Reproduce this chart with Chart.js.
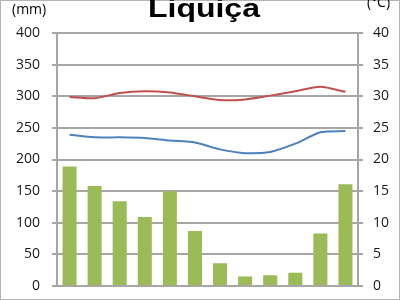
<!DOCTYPE html>
<html>
<head>
<meta charset="utf-8">
<script src="https://cdn.jsdelivr.net/npm/chart.js@4"></script>
<style>
html,body{margin:0;padding:0;background:#fff;}
#wrap{position:relative;width:400px;height:300px;overflow:hidden;}
#c{position:absolute;left:0;top:0;}
.t{position:absolute;white-space:nowrap;color:#000;}
#title{font-family:"Liberation Sans",Arial,sans-serif;font-weight:bold;font-size:26px;line-height:26px;top:-5px;left:148px;transform:scaleX(1.23);transform-origin:0 0;}
#u1{font-family:"Open Sans",sans-serif;font-size:14px;line-height:14px;left:12px;top:2px;}
#u2{font-family:"Open Sans",sans-serif;font-size:14px;line-height:14px;left:367px;top:-5px;}
</style>
</head>
<body>
<div id="wrap">
<canvas id="c" width="400" height="300"></canvas>
<div class="t" id="title">Liquiça</div>
<div class="t" id="u1">(mm)</div>
<div class="t" id="u2">(°C)</div>
</div>
<script>
const months = ['Jan','Feb','Mar','Apr','May','Jun','Jul','Aug','Sep','Oct','Nov','Dec'];
const rainfall = [189, 158, 134, 109, 150, 87, 36, 15, 17, 21, 83, 161];
const tempMax = [29.9, 29.7, 30.5, 30.8, 30.6, 30.0, 29.4, 29.5, 30.1, 30.8, 31.5, 30.7];
const tempMin = [23.9, 23.5, 23.5, 23.4, 23.0, 22.7, 21.6, 21.0, 21.2, 22.5, 24.3, 24.5];
const rainTicks = [0, 50, 100, 150, 200, 250, 300, 350, 400];
const tempTicks = [0, 5, 10, 15, 20, 25, 30, 35, 40];

const gridColor = '#a6a6a6';
const tickFont = {family: 'Open Sans', size: 14};

const borderPlugin = {
  id: 'outerBorder',
  afterDraw(chart) {
    const ctx = chart.ctx;
    ctx.save();
    ctx.strokeStyle = '#b4b4b4';
    ctx.lineWidth = 1;
    ctx.strokeRect(0.5, 0.5, chart.width - 1, chart.height - 1);
    ctx.restore();
  }
};

function noPad(s) { s.paddingTop = 0; s.paddingBottom = 0; }

new Chart(document.getElementById('c'), {
  data: {
    labels: months,
    datasets: [
      {type: 'line', data: tempMax, yAxisID: 'y2', borderColor: '#c0504d', borderWidth: 2, pointRadius: 0, tension: 0.25, order: 0},
      {type: 'line', data: tempMin, yAxisID: 'y2', borderColor: '#4f81bd', borderWidth: 2, pointRadius: 0, tension: 0.25, order: 1},
      {type: 'bar', data: rainfall, yAxisID: 'y', backgroundColor: '#9bbb59', categoryPercentage: 1, barPercentage: 0.56, order: 2}
    ]
  },
  options: {
    responsive: false,
    animation: false,
    layout: {padding: {top: 33, bottom: 0, left: 0, right: 0}},
    plugins: {legend: {display: false}, title: {display: false}, tooltip: {enabled: false}},
    scales: {
      x: {
        grid: {display: false},
        ticks: {display: false},
        border: {display: true, color: gridColor, width: 2},
        afterFit(s) { s.height = 14; s.paddingLeft = 0; s.paddingRight = 0; }
      },
      y: {
        position: 'left',
        min: 0, max: 400,
        afterBuildTicks(s) { s.ticks = rainTicks.map(v => ({value: v})); },
        ticks: {font: tickFont, color: '#1a1a1a', padding: 12},
        grid: {color: gridColor, lineWidth: 2, tickLength: 5, drawTicks: true},
        border: {display: true, color: gridColor, width: 2},
        afterFit(s) { s.width = 57; noPad(s); }
      },
      y2: {
        position: 'right',
        min: 0, max: 40,
        afterBuildTicks(s) { s.ticks = tempTicks.map(v => ({value: v})); },
        ticks: {font: tickFont, color: '#1a1a1a', padding: 10},
        grid: {color: gridColor, lineWidth: 2, tickLength: 5, drawOnChartArea: false, drawTicks: true},
        border: {display: true, color: gridColor, width: 2},
        afterFit(s) { s.width = 42; noPad(s); }
      }
    }
  },
  plugins: [borderPlugin]
});
</script>
</body>
</html>
